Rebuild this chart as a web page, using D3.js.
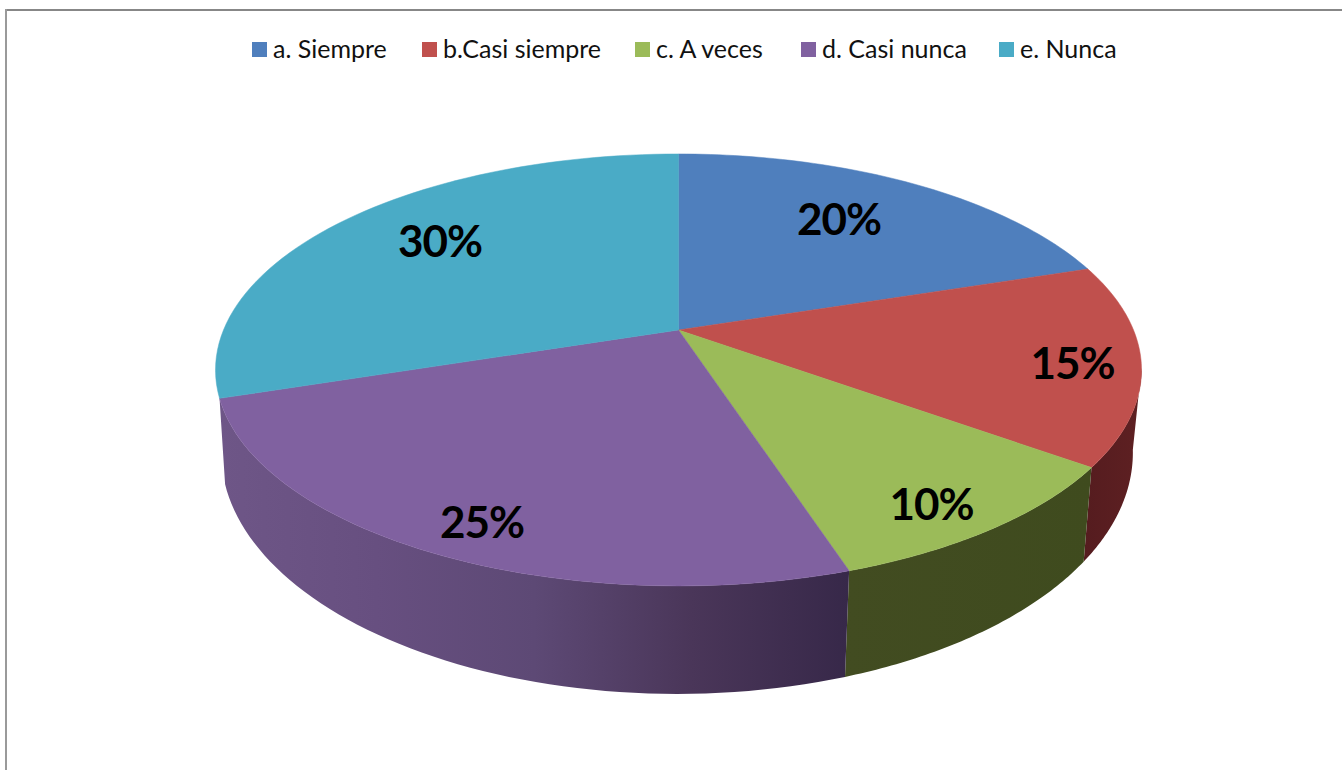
<!DOCTYPE html>
<html>
<head>
<meta charset="utf-8">
<style>
    html, body { margin: 0; padding: 0; background: #fff; overflow: hidden; }
    svg { display: block; }
    text { font-family: Lato, "Open Sans", sans-serif; }
</style>
<script src="https://cdn.jsdelivr.net/npm/d3@7"></script>
</head>
<body>
<svg width="1342" height="770"></svg>
<script>
const categories = ["a. Siempre", "b.Casi siempre", "c. A veces", "d. Casi nunca", "e. Nunca"];
const values = [20, 15, 10, 25, 30];
const colors = ["#4f7fbd", "#c0504d", "#9bbb59", "#8061a0", "#4aabc6"];

const svg = d3.select("svg");
const defs = svg.append("defs");

// frame of the chart, only top and left survive in the picture
svg.append("rect").attr("x", 5).attr("y", 9).attr("width", 1337).attr("height", 2).attr("fill", "#878787");
svg.append("rect").attr("x", 5).attr("y", 9).attr("width", 2).attr("height", 761).attr("fill", "#9a9a9a");

// legend
const legendSwatchX = [252, 422, 635, 801, 999];
const legend = svg.selectAll(".legend").data(categories).enter().append("g")
    .attr("class", "legend")
    .attr("transform", (d, i) => "translate(" + legendSwatchX[i] + ",42)");
legend.append("rect")
    .attr("width", 15).attr("height", 15)
    .attr("fill", (d, i) => colors[i]);
legend.append("text")
    .attr("x", 21).attr("y", 16)
    .attr("font-size", 25)
    .attr("fill", "#111")
    .text(d => d);

// tilted disc: perspective projection of a unit circle
function projector(x0, y0, a, b, p) {
    return function (angle, r) {
        const u = r * Math.sin(angle), v = -r * Math.cos(angle);
        const w = 1 - p * v;
        return [x0 + a * u / w, y0 + b * v / w];
    };
}
const topFace = projector(678.5, 330, 455, 208.6, 0.185);
const bottomFace = projector(677, 408, 448, 233, 0.185);

const slices = d3.pie().sort(null)(values);
const line = d3.line();

function arcPoints(face, a0, a1) {
    return d3.range(0, 61).map(i => face(a0 + (a1 - a0) * i / 60, 1));
}

// sides first, only the ones facing the viewer
const rad = d => d * Math.PI / 180;
const sides = [
    { slice: 1, from: rad(100), to: slices[1].endAngle, stops: ["#5e2022", "#551c1f"] },
    { slice: 2, from: slices[2].startAngle, to: slices[2].endAngle, stops: ["#3f4b1e", "#424c21"] },
    { slice: 3, from: slices[3].startAngle, to: slices[3].endAngle, stops: ["#372849", "#4a3659", "#5d4975", "#674f80", "#6e5687"] }
];
sides.forEach((s, i) => {
    const grad = defs.append("linearGradient").attr("id", "side" + i);
    // purple slice runs right to left, so the first stop sits on the right
    grad.attr("x1", "100%").attr("x2", "0%");
    grad.selectAll("stop").data(s.stops).enter().append("stop")
        .attr("offset", (d, j) => (s.stops.length > 1 ? j / (s.stops.length - 1) : 0))
        .attr("stop-color", d => d);
    const pts = arcPoints(topFace, s.from, s.to)
        .concat(arcPoints(bottomFace, s.from, s.to).reverse());
    svg.append("path")
        .attr("d", line(pts) + "Z")
        .attr("fill", "url(#side" + i + ")");
});

// top of the pie
svg.selectAll(".slice").data(slices).enter().append("path")
    .attr("class", "slice")
    .attr("d", d => line([topFace(0, 0)].concat(arcPoints(topFace, d.startAngle, d.endAngle))) + "Z")
    .attr("fill", (d, i) => colors[i])
    .attr("stroke", (d, i) => colors[i])
    .attr("stroke-width", 0.5);

// data labels, nudged from mid-slice the way the original sits
const labelNudge = [[-9, -5], [73, 9], [44, 41], [-33, 44], [1, -10]];
const total = d3.sum(values);
svg.selectAll(".label").data(slices).enter().append("text")
    .attr("class", "label")
    .attr("text-anchor", "middle")
    .attr("dominant-baseline", "central")
    .attr("font-size", 44)
    .attr("font-weight", 700)
    .attr("letter-spacing", -1)
    .attr("fill", "#000")
    .attr("x", (d, i) => topFace((d.startAngle + d.endAngle) / 2, 0.7)[0] + labelNudge[i][0])
    .attr("y", (d, i) => topFace((d.startAngle + d.endAngle) / 2, 0.7)[1] + labelNudge[i][1])
    .text(d => d3.format(".0%")(d.value / total));
</script>
</body>
</html>
